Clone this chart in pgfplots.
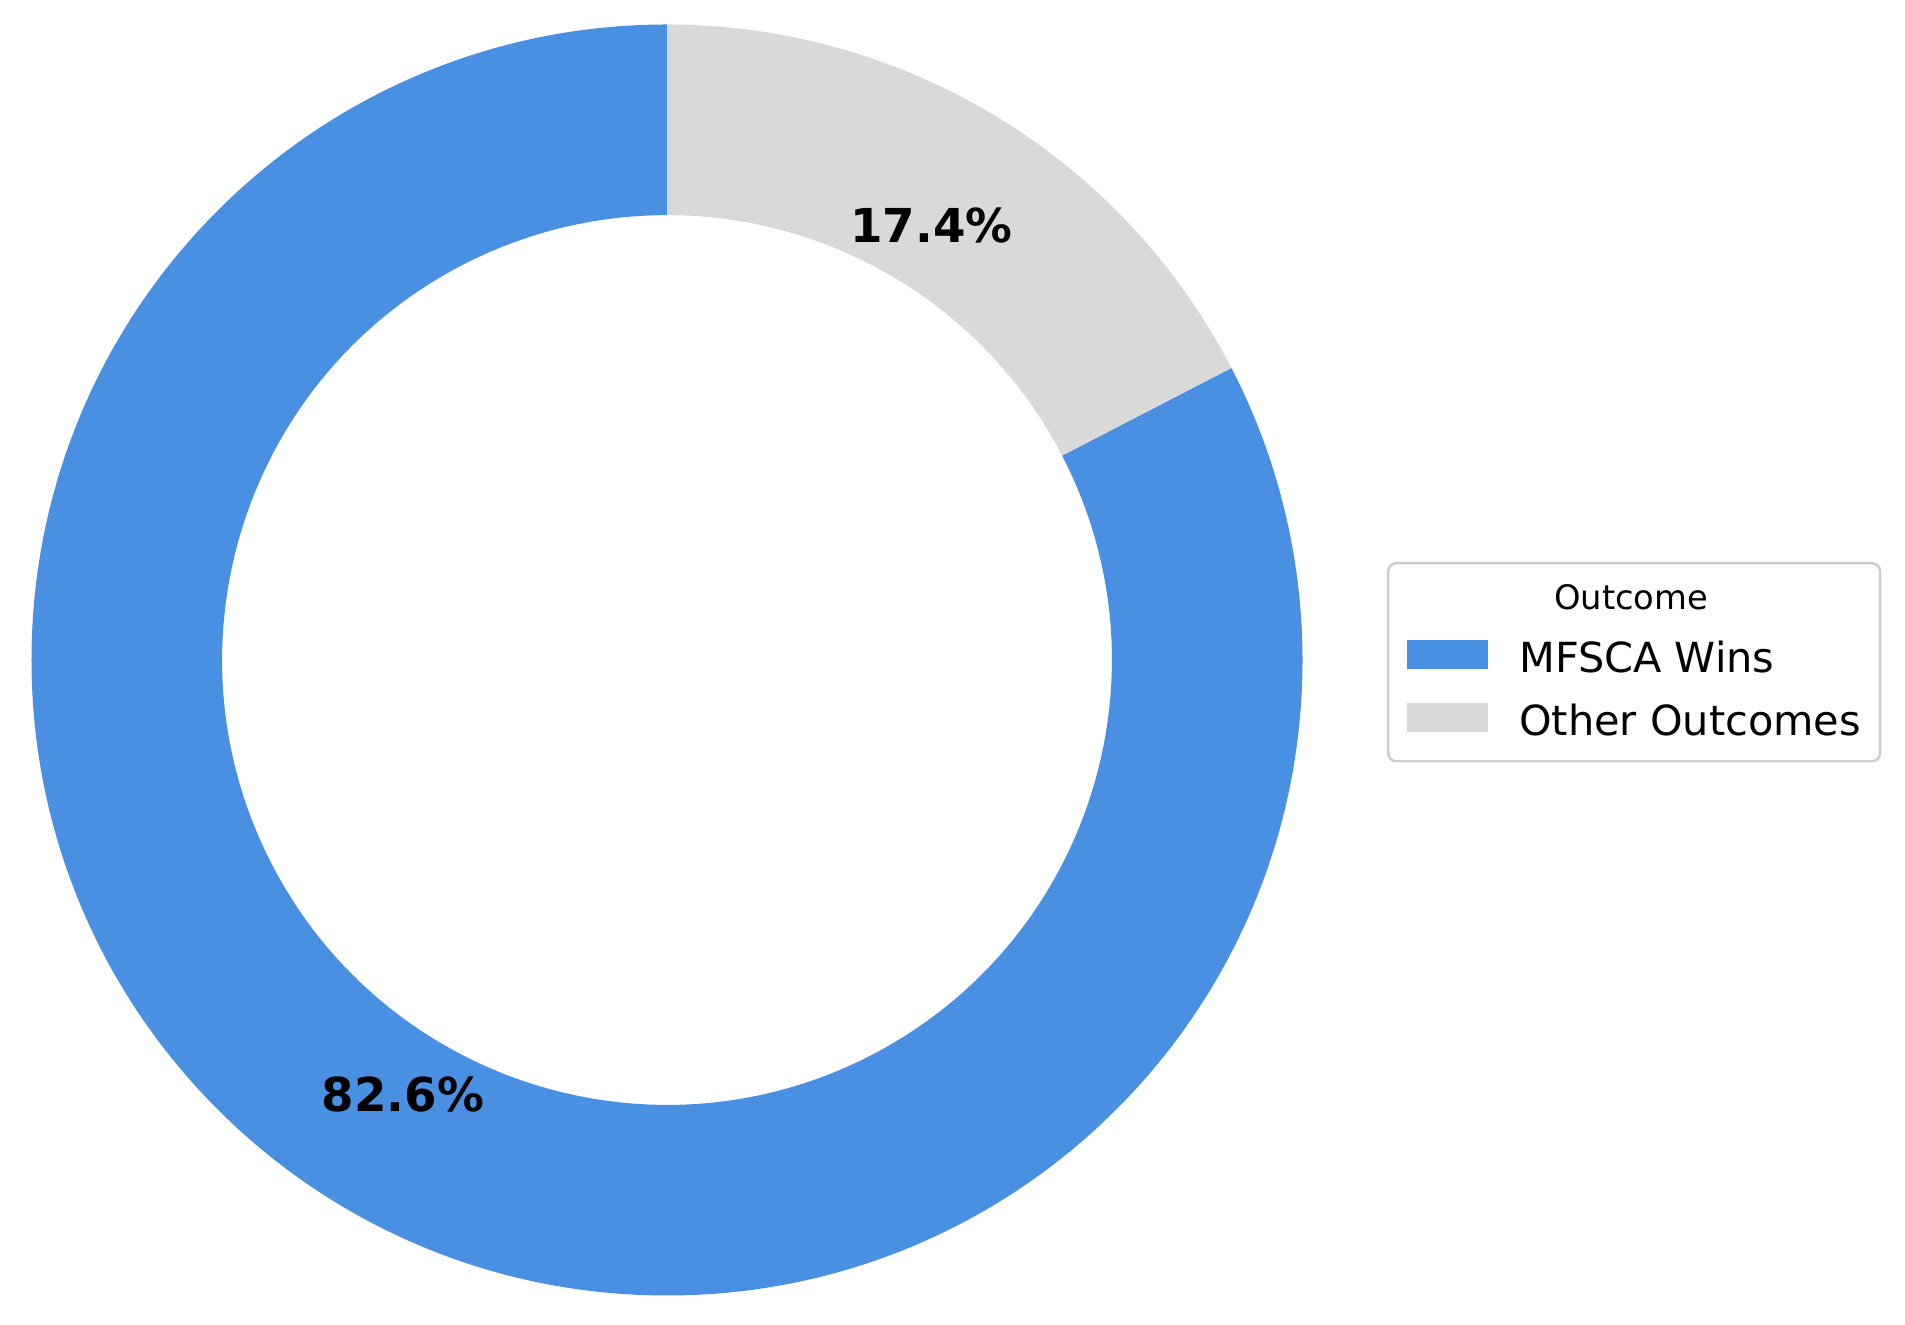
\documentclass[border=0pt]{standalone}
\usepackage{fontspec}
\setmainfont{DejaVu Sans}
\usepackage{pgfplots}
\usepackage{pgfplotstable}
\pgfplotsset{compat=1.18}
\definecolor{cblue}{HTML}{4A90E2}
\definecolor{cgray}{HTML}{D9D9D9}
\definecolor{cedge}{HTML}{CCCCCC}
\pgfplotstableread[col sep=comma]{
label,value
MFSCA Wins,82.6
Other Outcomes,17.4
}\outcomes
\begin{document}
\begin{tikzpicture}
\path[use as bounding box] (0,0) rectangle (19.05,13.25);
\pgfplotstablegetelem{0}{value}\of\outcomes \pgfmathsetmacro{\va}{\pgfplotsretval}
\pgfplotstablegetelem{1}{value}\of\outcomes \pgfmathsetmacro{\vb}{\pgfplotsretval}
\pgfmathsetmacro{\tot}{\va+\vb}
\pgfmathsetmacro{\fa}{\va/\tot}
\pgfmathsetmacro{\fb}{\vb/\tot}
\pgfmathsetmacro{\aA}{90}
\pgfmathsetmacro{\aB}{90+360*\fa}
\pgfmathsetmacro{\aC}{450}
\pgfmathsetmacro{\mA}{(\aA+\aB)/2}
\pgfmathsetmacro{\mB}{(\aB+\aC)/2}
\pgfmathsetmacro{\pA}{100*\fa}
\pgfmathsetmacro{\pB}{100*\fb}
\begin{axis}[hide axis, scale only axis, width=12.71cm, height=12.71cm,
  xmin=-1, xmax=1, ymin=-1, ymax=1, at={(6.67cm,6.65cm)}, anchor=center, clip=false,
  legend image code/.code={\fill[#1, sharp corners] (0cm,-0.07cm) rectangle (0.81cm,0.22cm);},
  legend cell align=left,
  legend style={at={(axis cs:1.1330,0.1542)}, anchor=north west, draw=cedge, line width=0.7pt,
    rounded corners=0.08cm, fill=white, inner xsep=0.19cm, inner ysep=0.16cm,
    row sep=0.21cm, column sep=0.31cm, font=\fontsize{11.8}{14}\selectfont,
    nodes={inner sep=0pt, text height=0.30cm, text depth=0.10cm}},
]
\addlegendimage{legend image code/.code={}}
\addlegendentry{\hspace*{1.12cm}\makebox[0pt][c]{\fontsize{9.6}{11}\selectfont Outcome}}
\addlegendimage{fill=cblue, draw=none}
\addlegendentry{MFSCA Wins}
\addlegendimage{fill=cgray, draw=none}
\addlegendentry{Other Outcomes}
\fill[cblue] (axis cs:{cos(\aA)},{sin(\aA)}) arc[start angle=\aA, end angle=\aB, radius=6.355cm]
  -- (axis cs:{0.7*cos(\aB)},{0.7*sin(\aB)}) arc[start angle=\aB, end angle=\aA, radius=4.4485cm] -- cycle;
\fill[cgray] (axis cs:{cos(\aB)},{sin(\aB)}) arc[start angle=\aB, end angle=\aC, radius=6.355cm]
  -- (axis cs:{0.7*cos(\aC)},{0.7*sin(\aC)}) arc[start angle=\aC, end angle=\aB, radius=4.4485cm] -- cycle;
\node[font=\bfseries\fontsize{13.3}{15}\selectfont] at (axis cs:{0.8*cos(\mA)},{0.8*sin(\mA)})
  {\pgfmathprintnumber[fixed,precision=1,fixed zerofill,assume math mode=true]{\pA}\%};
\node[font=\bfseries\fontsize{13.3}{15}\selectfont] at (axis cs:{0.8*cos(\mB)},{0.8*sin(\mB)})
  {\pgfmathprintnumber[fixed,precision=1,fixed zerofill,assume math mode=true]{\pB}\%};
\end{axis}
\end{tikzpicture}
\end{document}
